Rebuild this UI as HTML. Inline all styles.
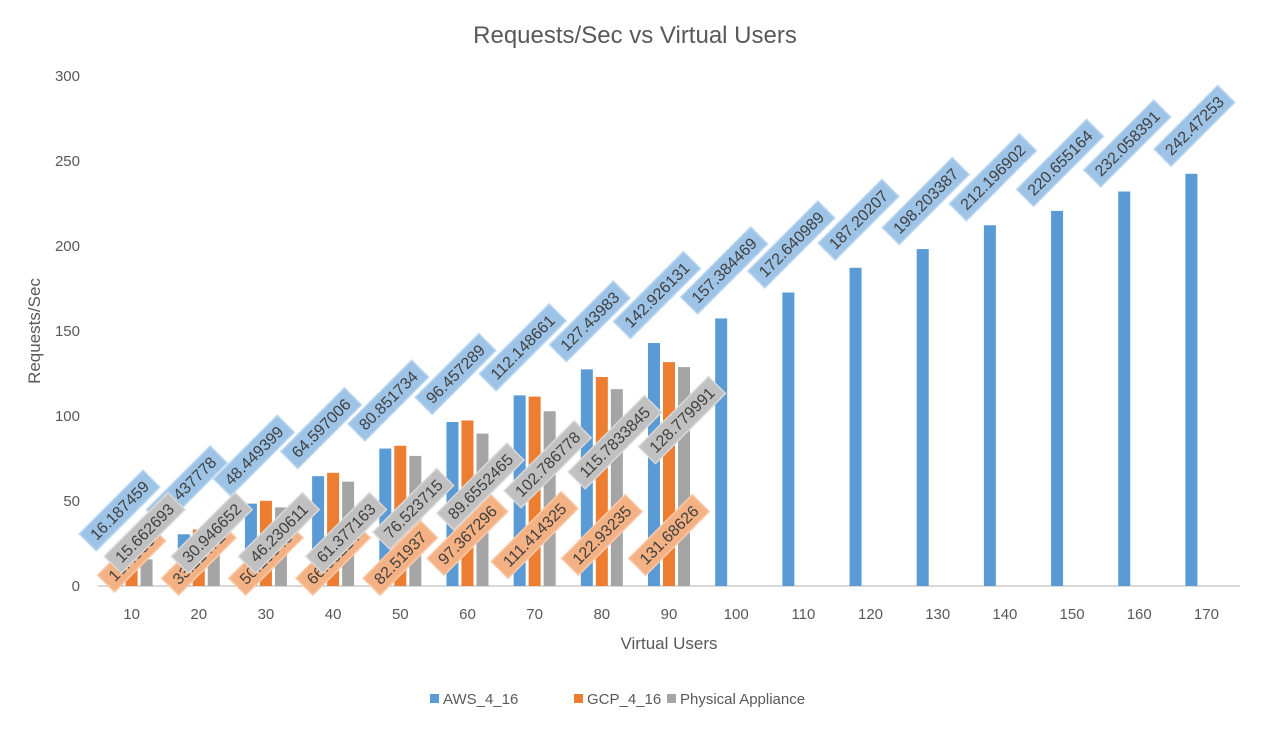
<!DOCTYPE html>
<html><head><meta charset="utf-8"><style>
body{margin:0;background:#fff;}
svg{display:block;font-family:"Liberation Sans",Arial,sans-serif;}
</style></head><body>
<svg id="chart" width="1268" height="729" viewBox="0 0 1268 729" xmlns="http://www.w3.org/2000/svg">
<rect x="0" y="0" width="1268" height="729" fill="#fff"/>
<text x="635" y="43" text-anchor="middle" font-size="24" fill="#595959">Requests/Sec vs Virtual Users</text>
<text transform="translate(40,331) rotate(-90)" text-anchor="middle" font-size="17" fill="#595959">Requests/Sec</text>
<text x="669" y="649" text-anchor="middle" font-size="17" fill="#595959">Virtual Users</text>
<g id="axes"></g><g id="bars"></g><g id="labels"></g>
<g>
<rect x="430" y="694" width="9" height="9" fill="#5b9bd5"/>
<text x="443" y="704" font-size="15" fill="#595959">AWS_4_16</text>
<rect x="574" y="694" width="9" height="9" fill="#ed7d31"/>
<text x="587" y="704" font-size="15" fill="#595959">GCP_4_16</text>
<rect x="667" y="694" width="9" height="9" fill="#a5a5a5"/>
<text x="680" y="704" font-size="15" fill="#595959">Physical Appliance</text>
</g>
</svg>
<script>
const categories=[10,20,30,40,50,60,70,80,90,100,110,120,130,140,150,160,170];
const awsValues=[16.187459,30.437778,48.449399,64.597006,80.851734,96.457289,112.148661,127.43983,142.926131,157.384469,172.640989,187.20207,198.203387,212.196902,220.655164,232.058391,242.47253];
const gcpValues=[16.4985,33.21472,50.10348,66.58214,82.51937,97.367296,111.414325,122.93235,131.68626];
const physValues=[15.662693,30.946652,46.230611,61.377163,76.523715,89.6552465,102.786778,115.7833845,128.779991];
const yTicks=[0,50,100,150,200,250,300];

const NS="http://www.w3.org/2000/svg";
const X0=98,X1=1240,Y0=586,Y300=76;
const band=(X1-X0)/categories.length;
function xc(i){return X0+band*(i+0.5);}
function y(v){return Y0-(v/300)*(Y0-Y300);}
function mk(tag,attrs,parent){const e=document.createElementNS(NS,tag);for(const k in attrs)e.setAttribute(k,attrs[k]);parent.appendChild(e);return e;}

const axes=document.getElementById('axes');
const axisLine=mk('line',{x1:X0,x2:X1,y1:Y0,y2:Y0,stroke:'#d9d9d9','stroke-width':2},axes);


yTicks.forEach(t=>{
  const tx=mk('text',{x:80,y:y(t)+5,'text-anchor':'end','font-size':15,fill:'#595959'},axes);
  tx.textContent=t;
  
  
});
categories.forEach((c,i)=>{
  const tx=mk('text',{x:xc(i),y:619,'text-anchor':'middle','font-size':15,fill:'#595959'},axes);
  tx.textContent=c;
  
  
});

const bars=document.getElementById('bars');
const series=[
 {vals:awsValues,off:-15,fill:'#5b9bd5',name:'aws'},
 {vals:gcpValues,off:0,fill:'#ed7d31',name:'gcp'},
 {vals:physValues,off:15,fill:'#a5a5a5',name:'physical'}];
series.forEach(s=>{
  s.vals.forEach((v,i)=>{
    const r=mk('rect',{x:xc(i)+s.off-6,y:y(v),width:12,height:Y0-y(v),fill:s.fill},bars);
    
    
  });
});

const labels=document.getElementById('labels');
function label(cx,cy,txt,fill,stroke,name){
  const g=mk('g',{transform:`translate(${cx},${cy}) rotate(-45)`},labels);
  
  
  const t=document.createElementNS(NS,'text');
  t.setAttribute('x',0);t.setAttribute('y',5.5);t.setAttribute('text-anchor','middle');
  t.setAttribute('font-size',16);t.setAttribute('fill','#404040');
  t.textContent=txt;
  const w=txt.length*8.9+10;
  mk('rect',{x:-w/2,y:-12,width:w,height:24,fill:fill,stroke:stroke,'stroke-width':1.5},g);
  g.appendChild(t);
}
awsValues.forEach((v,i)=>label(xc(i)-15+3,y(v)-48,String(v),'#9dc3e6','#bdd7ee','label-aws-'+categories[i]));
gcpValues.forEach((v,i)=>label(xc(i),v>90?535:558,String(v),'#f4b183','#f8cbad','label-gcp-'+categories[i]));
physValues.forEach((v,i)=>label(xc(i)+15-2,Math.min(y(v)+53,533),String(v),'#c0c0c0','#d9d9d9','label-physical-'+categories[i]));
</script>
</body></html>
